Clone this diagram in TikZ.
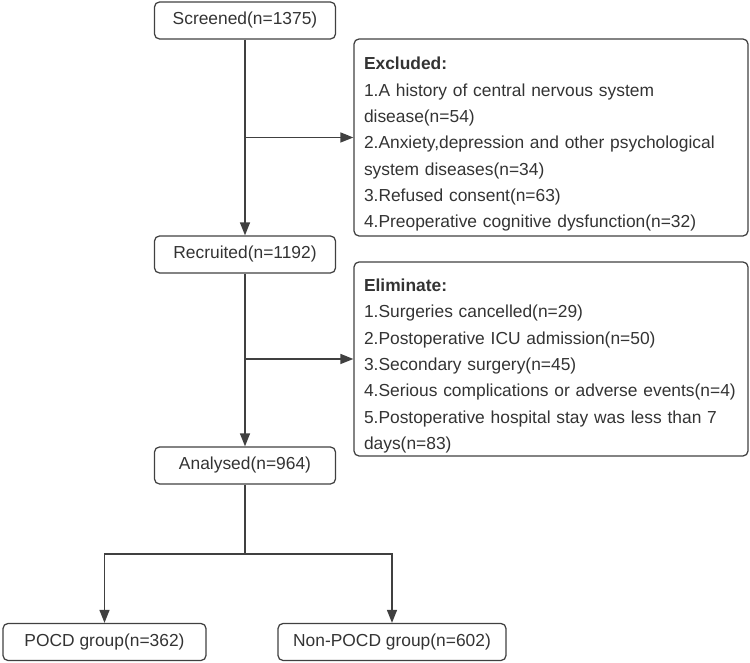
\documentclass[tikz,border=0pt]{standalone}
\usepackage{fontspec}
\setmainfont{Liberation Sans}
\usetikzlibrary{arrows.meta}

\definecolor{linegray}{HTML}{404040}
\definecolor{textgray}{HTML}{333333}

\tikzset{
    stepbox/.style={draw=linegray, line width=0.025cm, rounded corners=0.1cm,
        text=textgray, inner sep=0pt, align=center, minimum height=0.74cm},
    notebox/.style={stepbox, align=left, inner xsep=0.2cm, text width=7.48cm},
    flow/.style={draw=linegray, line width=0.03cm, -{Triangle[length=0.26cm,width=0.2cm]}}
}

\begin{document}
\begin{tikzpicture}[font=\fontsize{9.9}{15}\selectfont]
    \useasboundingbox (0,0) rectangle (15,13.26);

    \node[stepbox, minimum width=3.62cm] (screened) at (4.9,12.85) {Screened(n=1375)};
    \node[stepbox, minimum width=3.62cm] (recruited) at (4.9,8.17) {Recruited(n=1192)};
    \node[stepbox, minimum width=3.62cm] (analysed) at (4.9,3.95) {Analysed(n=964)};
    \node[stepbox, minimum width=4.06cm] (pocd) at (2.09,0.42) {POCD group(n=362)};
    \node[stepbox, minimum width=4.56cm] (nonpocd) at (7.84,0.42) {Non-POCD group(n=602)};

    \node[notebox, minimum height=3.94cm] (excluded) at (11.02,10.51) {\rule{0pt}{15pt}\textbf{Excluded:}\\
        1.A history of central nervous system\\
        disease(n=54)\\
        2.Anxiety,depression and other psychological\\
        system diseases(n=34)\\
        3.Refused consent(n=63)\\
        4.Preoperative cognitive dysfunction(n=32)};
    \node[notebox, minimum height=3.88cm] (eliminate) at (11.02,6.08) {\rule{0pt}{15pt}\textbf{Eliminate:}\\
        1.Surgeries cancelled(n=29)\\
        2.Postoperative ICU admission(n=50)\\
        3.Secondary surgery(n=45)\\
        4.Serious complications or adverse events(n=4)\\
        5.Postoperative hospital stay was less than 7\\
        days(n=83)};

    \coordinate (split) at (4.9,2.18);

    \draw[flow] (screened) -- (recruited);
    \draw[flow] (screened.south |- excluded.west) -- (excluded.west);
    \draw[flow] (recruited) -- (analysed);
    \draw[flow] (recruited.south |- eliminate.west) -- (eliminate.west);
    \draw[linegray, line width=0.03cm] (analysed) -- (split);
    \draw[flow] (split) -| (pocd);
    \draw[flow] (split) -| (nonpocd);
\end{tikzpicture}
\end{document}
